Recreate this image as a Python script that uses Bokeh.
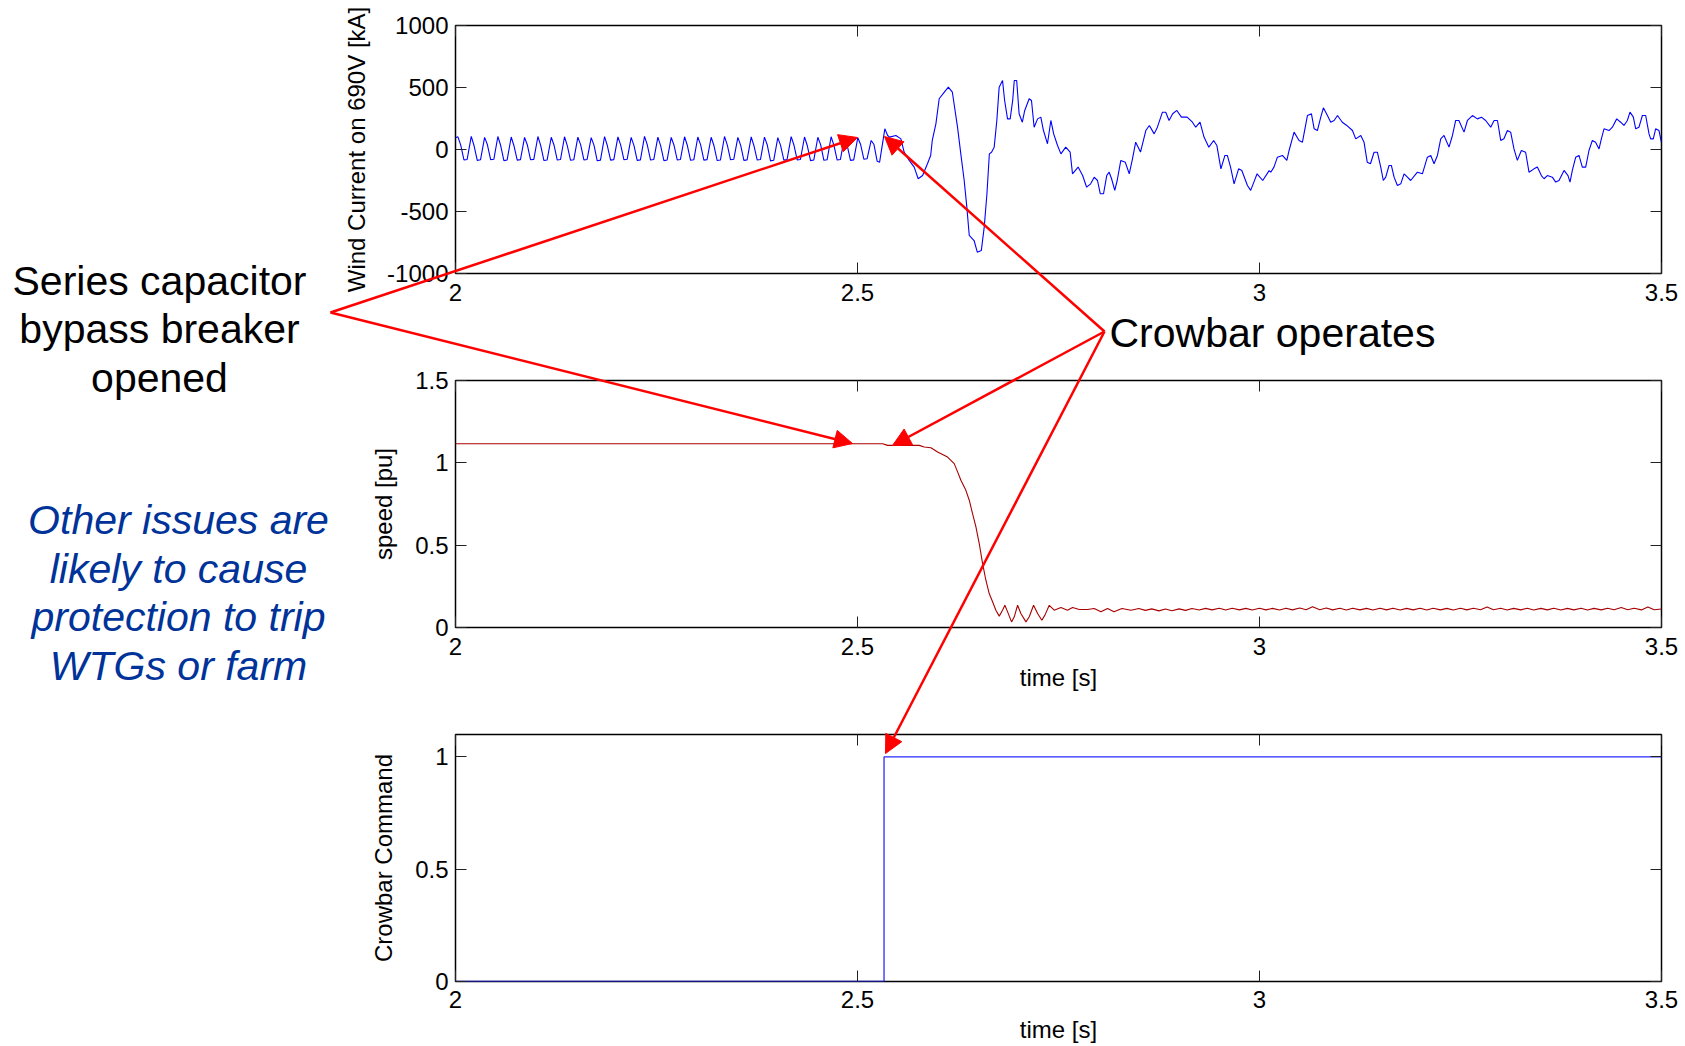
from bokeh.plotting import figure
from bokeh.layouts import column
from bokeh.models import (Range1d, FixedTicker, LinearAxis, CustomJSTickFormatter,
                          Label, Arrow, NormalHead)
from bokeh.embed import file_html
from bokeh.resources import INLINE

FONT = "Liberation Sans"

# ---------------- data ----------------
X_TICKS = [2, 2.5, 3, 3.5]
CUR_TICKS = [-1000, -500, 0, 500, 1000]
SPD_TICKS = [0, 0.5, 1, 1.5]
CB_TICKS = [0, 0.5, 1]

# Wind current [kA]: steady 60 Hz part before the event (t, value)
cur_steady = [
    (2.000, 95),
    (2.0030, 102), (2.0065, 35), (2.0105, -84), (2.0145, -80),
    (2.0196, 106), (2.0231, 30), (2.0271, -88), (2.0311, -83),
    (2.0362, 98), (2.0397, 38), (2.0437, -82), (2.0477, -79),
    (2.0527, 105), (2.0562, 32), (2.0602, -90), (2.0642, -85),
    (2.0693, 101), (2.0728, 28), (2.0768, -86), (2.0808, -82),
    (2.0859, 97), (2.0894, 36), (2.0934, -83), (2.0974, -80),
    (2.1025, 105), (2.1060, 31), (2.1100, -89), (2.1140, -84),
    (2.1191, 99), (2.1226, 34), (2.1266, -85), (2.1306, -81),
    (2.1356, 103), (2.1391, 29), (2.1431, -87), (2.1471, -83),
    (2.1522, 100), (2.1557, 37), (2.1597, -84), (2.1637, -80),
    (2.1688, 96), (2.1723, 33), (2.1763, -91), (2.1803, -86),
    (2.1854, 104), (2.1889, 30), (2.1929, -86), (2.1969, -82),
    (2.2020, 102), (2.2055, 35), (2.2095, -83), (2.2135, -79),
    (2.2185, 98), (2.2220, 31), (2.2260, -88), (2.2300, -84),
    (2.2351, 106), (2.2386, 36), (2.2426, -85), (2.2466, -81),
    (2.2517, 100), (2.2552, 29), (2.2592, -90), (2.2632, -85),
    (2.2683, 97), (2.2718, 34), (2.2758, -84), (2.2798, -80),
    (2.2849, 103), (2.2884, 32), (2.2924, -87), (2.2964, -83),
    (2.3014, 101), (2.3049, 37), (2.3089, -86), (2.3129, -82),
    (2.3180, 99), (2.3215, 30), (2.3255, -89), (2.3295, -85),
    (2.3346, 105), (2.3381, 35), (2.3421, -83), (2.3461, -79),
    (2.3512, 98), (2.3547, 33), (2.3587, -88), (2.3627, -84),
    (2.3678, 102), (2.3713, 28), (2.3753, -85), (2.3793, -81),
    (2.3843, 100), (2.3878, 36), (2.3918, -92), (2.3958, -87),
    (2.4009, 96), (2.4044, 31), (2.4084, -86), (2.4124, -82),
    (2.4175, 104), (2.4210, 34), (2.4250, -84), (2.4290, -80),
    (2.4341, 101), (2.4376, 30), (2.4416, -90), (2.4456, -85),
    (2.4507, 99), (2.4542, 37), (2.4582, -87), (2.4622, -83),
    (2.4672, 103), (2.4707, 33), (2.4747, -85), (2.4787, -81),
    (2.4838, 97), (2.4873, 29), (2.4913, -88), (2.4953, -84),
    (2.5004, 95), (2.5039, 40), (2.5079, -78), (2.5119, -75),
    (2.5170, 73), (2.5205, 40), (2.5245, -95), (2.5275, -102),
]

# Wind current [kA]: crowbar transient
cur_fault = [
    (2.534, 167), (2.5375, 113), (2.540, 100), (2.5477, 113), (2.554, 86),
    (2.558, -21), (2.5643, -88), (2.5705, -142), (2.5755, -236), (2.581, -210),
    (2.587, -115), (2.591, -48), (2.593, 73), (2.5975, 207), (2.6016, 409),
    (2.608, 462), (2.613, 503), (2.618, 462), (2.6244, 180), (2.6285, -35),
    (2.6327, -250), (2.636, -465), (2.639, -693), (2.645, -734), (2.649, -828),
    (2.654, -815), (2.6576, -626), (2.661, -357), (2.664, -35), (2.6667, -22),
    (2.670, 19), (2.6733, 234), (2.6762, 503), (2.6804, 557), (2.683, 395),
    (2.6866, 247), (2.6899, 247), (2.693, 395), (2.695, 557), (2.698, 557),
    (2.701, 288), (2.705, 220), (2.708, 315), (2.7135, 409), (2.7164, 395),
    (2.7197, 180), (2.724, 247), (2.728, 261), (2.7313, 153), (2.7363, 46),
    (2.7405, 234), (2.744, 126), (2.7488, 32), (2.753, -35), (2.759, 19),
    (2.7645, -22), (2.7674, -196), (2.7744, -142), (2.780, -210), (2.785, -304),
    (2.790, -277), (2.7944, -223), (2.7985, -250), (2.802, -357), (2.806, -357),
    (2.810, -210), (2.813, -183), (2.816, -236), (2.820, -330), (2.823, -250),
    (2.8275, -88), (2.833, -102), (2.838, -196), (2.842, -75), (2.846, 59),
    (2.852, -21), (2.8586, 153), (2.863, 194), (2.869, 126), (2.873, 180),
    (2.8793, 301), (2.8834, 301), (2.8875, 234), (2.892, 288), (2.8972, 315),
    (2.9029, 261), (2.910, 261), (2.9166, 220), (2.9207, 180), (2.926, 220),
    (2.931, 100), (2.937, 19), (2.943, 73), (2.947, 32), (2.952, -156),
    (2.957, -48), (2.960, -48), (2.964, -142), (2.9684, -277), (2.974, -156),
    (2.978, -169), (2.985, -290), (2.989, -330), (2.993, -263), (2.997, -196),
    (3.004, -250), (3.012, -170),
]

# Wind current [kA]: sub-synchronous oscillation afterwards
cur_post = [
    (3.014, -183), (3.018, -142), (3.0223, -62), (3.0285, -48), (3.034, -88),
    (3.0368, -8), (3.043, 140), (3.0492, 73), (3.0534, 59), (3.0596, 274),
    (3.0646, 288), (3.068, 167), (3.072, 153), (3.0762, 261), (3.0795, 336),
    (3.0845, 274), (3.0886, 220), (3.0928, 234), (3.097, 274), (3.103, 220),
    (3.1085, 194), (3.1156, 153), (3.1197, 86), (3.126, 113), (3.130, 59),
    (3.134, -102), (3.138, -115), (3.1425, -22), (3.1466, -22), (3.1508, -142),
    (3.154, -250), (3.157, -223), (3.1611, -129), (3.164, -129), (3.1674, -223),
    (3.1715, -290), (3.1757, -277), (3.1798, -196), (3.184, -223), (3.188, -250),
    (3.1964, -183), (3.2026, -196), (3.2088, -62), (3.213, -48), (3.2171, -115),
    (3.2213, -48), (3.2254, 86), (3.2295, 113), (3.2357, 19), (3.240, 113),
    (3.244, 234), (3.248, 234), (3.2544, 140), (3.2586, 234), (3.2648, 274),
    (3.271, 247), (3.276, 261), (3.2813, 234), (3.2876, 180), (3.2918, 234),
    (3.296, 234), (3.300, 73), (3.304, 86), (3.3083, 153), (3.3124, 140),
    (3.3165, 5), (3.3207, -88), (3.3257, -8), (3.331, -22), (3.3352, -183),
    (3.3414, -156), (3.3456, -142), (3.3506, -210), (3.3539, -236), (3.358, -210),
    (3.3642, -223), (3.3684, -263), (3.3725, -250), (3.3788, -169), (3.3837, -210),
    (3.3862, -263), (3.3891, -169), (3.3933, -62), (3.3974, -48), (3.4015, -142),
    (3.4057, -142), (3.4098, -8), (3.414, 73), (3.418, 59), (3.4223, 5),
    (3.4252, 86), (3.4285, 167), (3.4347, 153), (3.4389, 180), (3.4443, 247),
    (3.4492, 220), (3.4533, 194), (3.4575, 234), (3.4608, 301), (3.465, 261),
    (3.4679, 167), (3.472, 180), (3.4762, 274), (3.4803, 274), (3.4845, 126),
    (3.4865, 86), (3.4898, 86), (3.4927, 167), (3.4969, 153), (3.4998, 59),
]

# Generator speed [pu]
spd_drop = [
    (2.0, 1.116), (2.5312, 1.116), (2.5374, 1.106), (2.5768, 1.106), (2.583, 1.096),
    (2.5913, 1.092), (2.5996, 1.066), (2.612, 1.035), (2.6203, 0.995), (2.6245, 0.945),
    (2.6286, 0.894), (2.6348, 0.833), (2.639, 0.773), (2.6431, 0.692), (2.6473, 0.611),
    (2.6514, 0.510), (2.6556, 0.388), (2.6597, 0.287), (2.6638, 0.206), (2.668, 0.156),
    (2.6721, 0.105), (2.6763, 0.069), (2.6804, 0.105), (2.6833, 0.135), (2.6867, 0.095),
    (2.6916, 0.034), (2.695, 0.065), (2.6991, 0.135), (2.7032, 0.085), (2.7095, 0.034),
    (2.7136, 0.065), (2.719, 0.135), (2.724, 0.085), (2.7293, 0.044), (2.7331, 0.075),
    (2.7385, 0.135), (2.7447, 0.105), (2.753, 0.121), (2.7612, 0.105), (2.7675, 0.121),
    (2.7758, 0.109), (2.786, 0.109), (2.7944, 0.115), (2.8027, 0.095), (2.811, 0.115),
    (2.819, 0.095), (2.829, 0.115), (2.840, 0.105), (2.850, 0.115),
]
spd_tail = [
    (2.858, 0.104), (2.866, 0.113), (2.875, 0.101), (2.883, 0.112), (2.891, 0.102),
    (2.900, 0.113), (2.908, 0.104), (2.916, 0.115), (2.925, 0.106), (2.933, 0.116),
    (2.941, 0.107), (2.950, 0.117), (2.958, 0.106), (2.966, 0.117), (2.975, 0.107),
    (2.983, 0.116), (2.991, 0.106), (3.000, 0.117), (3.008, 0.107), (3.016, 0.116),
    (3.025, 0.106), (3.033, 0.117), (3.041, 0.107), (3.050, 0.118), (3.058, 0.108),
    (3.066, 0.126), (3.075, 0.108), (3.083, 0.118), (3.091, 0.107), (3.100, 0.117),
    (3.108, 0.106), (3.116, 0.117), (3.125, 0.107), (3.133, 0.116), (3.141, 0.106),
    (3.150, 0.117), (3.158, 0.107), (3.166, 0.117), (3.175, 0.106), (3.183, 0.116),
    (3.191, 0.107), (3.200, 0.117), (3.208, 0.106), (3.216, 0.117), (3.225, 0.107),
    (3.233, 0.116), (3.241, 0.106), (3.250, 0.117), (3.258, 0.107), (3.266, 0.117),
    (3.275, 0.108), (3.283, 0.125), (3.291, 0.108), (3.300, 0.117), (3.308, 0.106),
    (3.316, 0.116), (3.325, 0.107), (3.333, 0.117), (3.341, 0.106), (3.350, 0.116),
    (3.358, 0.107), (3.366, 0.117), (3.375, 0.106), (3.383, 0.116), (3.391, 0.107),
    (3.400, 0.117), (3.408, 0.106), (3.416, 0.116), (3.425, 0.107), (3.433, 0.117),
    (3.441, 0.108), (3.450, 0.122), (3.458, 0.108), (3.466, 0.117), (3.475, 0.107),
    (3.483, 0.124), (3.491, 0.108), (3.500, 0.112),
]

# Crowbar command (0/1)
crowbar = [(2.0, 0), (2.533, 0), (2.533, 1), (3.5, 1)]


def unzip(*parts):
    xs, ys = [], []
    for part in parts:
        for a, b in part:
            xs.append(a)
            ys.append(b)
    return xs, ys


cur_t, cur_v = unzip(cur_steady, cur_fault, cur_post)
spd_t, spd_v = unzip(spd_drop, spd_tail)
cb_t, cb_v = unzip(crowbar)

# ---------------- layout ----------------
W = 1684
BORDER_L = 455
BORDER_R = 23


def panel(height, b_top, b_bottom, y_start, y_end, y_ticks, y_label,
          y_label_standoff, x_label=None, tick_standoff=10, x_label_standoff=6):
    p = figure(width=W, height=height, x_range=Range1d(2, 3.5),
               y_range=Range1d(y_start, y_end), output_backend="svg",
               toolbar_location=None, min_border_left=BORDER_L,
               min_border_right=BORDER_R, min_border_top=b_top,
               min_border_bottom=b_bottom)
    p.grid.visible = False
    p.outline_line_color = "black"
    p.outline_line_width = 1.5
    p.background_fill_color = "white"
    p.border_fill_color = "white"
    fmt = CustomJSTickFormatter(code="return String(tick);")
    xa = p.xaxis[0]
    ya = p.yaxis[0]
    xa.ticker = FixedTicker(ticks=X_TICKS)
    ya.ticker = FixedTicker(ticks=y_ticks)
    for ax in (xa, ya):
        ax.formatter = fmt
        ax.major_tick_in = 11
        ax.major_tick_out = 0
        ax.minor_tick_line_color = None
        ax.axis_line_color = None
        ax.major_tick_line_color = "#222222"
        ax.major_label_text_font = FONT
        ax.major_label_text_font_size = "24px"
        ax.major_label_text_color = "black"
        ax.axis_label_text_font = FONT
        ax.axis_label_text_font_size = "24px"
        ax.axis_label_text_font_style = "normal"
        ax.axis_label_text_color = "black"
    xa.major_label_standoff = tick_standoff
    ya.major_label_standoff = 7
    ya.axis_label = y_label
    ya.axis_label_standoff = y_label_standoff
    if x_label:
        xa.axis_label = x_label
        xa.axis_label_standoff = x_label_standoff
    # box ticks on the top and right edges (MATLAB style), no labels drawn
    for loc, ticks in (("above", X_TICKS), ("right", y_ticks)):
        ax = LinearAxis(ticker=FixedTicker(ticks=ticks), major_tick_in=11,
                        major_tick_out=0, minor_tick_line_color=None,
                        axis_line_color=None, major_tick_line_color="#222222",
                        major_label_text_font_size="1px",
                        major_label_text_color=None, major_label_standoff=0)
        p.add_layout(ax, loc)
    return p


f1 = panel(328, 25, 55, -1000, 1000, CUR_TICKS, "Wind Current on 690V [kA]", 14)
f1.line(cur_t, cur_v, line_color="#0000ff", line_width=1.1)

f2 = panel(380, 52, 81, 0, 1.5, SPD_TICKS, "speed [pu]", 15, "time [s]")
f2.line(spd_t, spd_v, line_color="#a80000", line_width=1.1)

f3 = panel(337, 26, 63, 0, 1.1, CB_TICKS, "Crowbar Command", 15, "time [s]",
           tick_standoff=9, x_label_standoff=5)
f3.line(cb_t, cb_v, line_color="#2a2aff", line_width=1.3)

# ---------------- annotation overlay (page pixel coordinates) ----------------
ov = figure(width=W, height=1045, x_range=Range1d(0, W), y_range=Range1d(1045, 0),
            output_backend="svg", toolbar_location=None, x_axis_type=None,
            y_axis_type=None, min_border=0, background_fill_color=None,
            border_fill_color=None, outline_line_color=None,
            styles={"position": "absolute", "top": "0px", "left": "0px"})
ov.grid.visible = False

RED = "#ff0000"
arrows = [
    ((330, 312), (857, 137)),
    ((330, 312), (852, 443)),
    ((1104, 331), (884, 136)),
    ((1104, 331), (892, 445)),
    ((1104, 331), (885, 753)),
]
for (xs, ys), (xe, ye) in arrows:
    ov.add_layout(Arrow(end=NormalHead(size=18, fill_color=RED, line_color=RED, line_width=1),
                        x_start=xs, y_start=ys, x_end=xe, y_end=ye,
                        line_color=RED, line_width=2.5))

for txt, y in (("Series capacitor", 280), ("bypass breaker", 328.5), ("opened", 377)):
    ov.add_layout(Label(x=159, y=y, text=txt, text_font=FONT, text_font_size="41px",
                        text_align="center", text_baseline="alphabetic", text_color="black"))

ov.add_layout(Label(x=1109, y=332, text="Crowbar operates", text_font=FONT,
                    text_font_size="41px", text_align="left", text_baseline="alphabetic",
                    text_color="black"))

for txt, y in (("Other issues are", 519.5), ("likely to cause", 568),
               ("protection to trip", 616.5), ("WTGs or farm", 665)):
    ov.add_layout(Label(x=178, y=y, text=txt, text_font=FONT, text_font_size="41px",
                        text_font_style="italic", text_align="center",
                        text_baseline="alphabetic", text_color="#003399"))

layout = column(f1, f2, f3)
open("out.html", "w").write(file_html([layout, ov], INLINE))
